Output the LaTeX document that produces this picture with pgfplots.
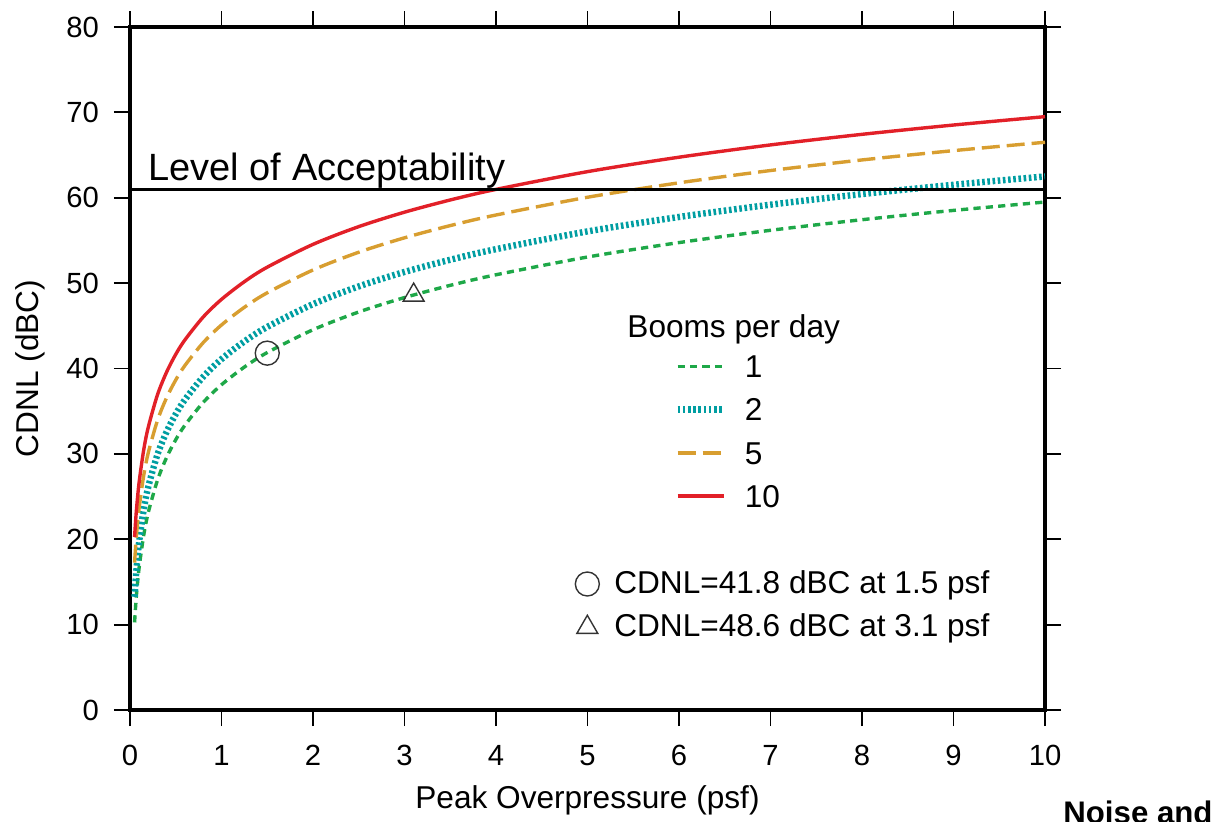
\documentclass[border=0pt]{standalone}
\usepackage{fontspec}
\setmainfont{Liberation Sans}
\usepackage{pgfplots}
\pgfplotsset{compat=1.18}
\usepackage{pgfplotstable}
\definecolor{cgreen}{RGB}{30,168,72}
\definecolor{cteal}{RGB}{0,158,162}
\definecolor{corange}{RGB}{216,158,48}
\definecolor{cred}{RGB}{226,32,40}

\pgfplotstableread{
x     b1     b2     b5     b10
0.05  10.26  13.26  17.26  20.26
0.07  13.39  16.39  20.39  23.39
0.1   16.70  19.70  23.70  26.70
0.15  20.47  23.47  27.47  30.47
0.2   23.14  26.14  30.14  33.14
0.3   26.91  29.91  33.91  36.91
0.4   29.58  32.58  36.58  39.58
0.5   31.66  34.66  38.66  41.66
0.6   33.35  36.35  40.35  43.35
0.8   36.03  39.03  43.03  46.03
1     38.10  41.10  45.10  48.10
1.25  40.17  43.17  47.17  50.17
1.5   41.87  44.87  48.87  51.87
2     44.54  47.54  51.54  54.54
2.5   46.62  49.62  53.62  56.62
3     48.31  51.31  55.31  58.31
3.5   49.74  52.74  56.74  59.74
4     50.98  53.98  57.98  60.98
5     53.06  56.06  60.06  63.06
6     54.75  57.75  61.75  64.75
7     56.19  59.19  63.19  66.19
8     57.43  60.43  64.43  67.43
9     58.52  61.52  65.52  68.52
10    59.50  62.50  66.50  69.50
}\cdnl

\newcommand{\tickfont}{\fontsize{14.6}{14.6}\selectfont}
\newcommand{\labfont}{\fontsize{15.8}{15.8}\selectfont}

\begin{document}
\begin{tikzpicture}
\begin{axis}[name=ax,
  scale only axis, width=457.5pt, height=341.5pt,
  xmin=0, xmax=10, ymin=0, ymax=80,
  xtick={0,1,...,10}, ytick={0,10,...,80},
  tick align=outside, major tick length=8pt,
  tick style={black, line width=0.9pt},
  axis line style={line width=1.8pt},
  /pgf/number format/assume math mode=true,
  ticklabel style={font=\tickfont},
  xticklabel style={yshift=-6pt},
  yticklabel style={xshift=-4pt},
  xlabel={Peak Overpressure (psf)},
  ylabel={CDNL (dBC)},
  label style={font=\labfont},
  xlabel style={at={(axis description cs:0.5,-0.1435)}, anchor=base},
  ylabel style={at={(axis description cs:-0.109,0.5)}, anchor=center},
  legend style={draw=none, fill=none, font=\labfont,
    at={(axis description cs:0.588,0.526)}, anchor=north west,
    row sep=10.3pt, column sep=9pt,
    nodes={inner sep=0pt, text height=11.3pt, text depth=0pt}},
  legend cell align=left,
  legend image code/.code={\draw[#1] (0pt,0pt) -- (23pt,0pt);},
]
\addplot[cgreen, line width=1.7pt, dash pattern=on 3.6pt off 2.6pt, smooth] table[x=x, y=b1] {\cdnl};
\addplot[cteal, line width=3.2pt, dash pattern=on 1.3pt off 1.3pt, smooth] table[x=x, y=b2] {\cdnl};
\addplot[corange, line width=1.7pt, dash pattern=on 9pt off 3.5pt, smooth] table[x=x, y=b5] {\cdnl};
\addplot[cred, line width=1.7pt, smooth] table[x=x, y=b10] {\cdnl};
\legend{1,2,5,10}
\addplot[black, line width=1.6pt, forget plot] coordinates {(0,61) (10,61)};
\node[anchor=base west, inner sep=0pt, font=\fontsize{19}{19}\selectfont] at (axis cs:0.197,62.06) {Level of Acceptability};
\node[anchor=base west, inner sep=0pt, font=\labfont] at (axis cs:5.432,43.68) {Booms per day};
\end{axis}
\begin{axis}[at={(ax.south west)}, anchor=south west,
  scale only axis, width=457.5pt, height=341.5pt,
  xmin=0, xmax=10, ymin=0, ymax=80, hide axis,
  legend style={draw=none, fill=none, font=\labfont,
    at={(axis description cs:0.4797,0.2104)}, anchor=north west,
    row sep=9pt, column sep=7.5pt,
    nodes={inner sep=0pt, text height=11.3pt, text depth=0pt}},
  legend cell align=left,
  legend image code/.code={\draw[#1] plot coordinates {(6pt,-1pt)};},
]
\addplot[only marks, mark=o, mark size=6pt, black!80, mark options={line width=0.7pt}] coordinates {(1.5,41.8)};
\addplot[only marks, mark=triangle, mark size=6pt, black!80, mark options={line width=0.7pt}] coordinates {(3.1,48.6)};
\legend{CDNL=41.8 dBC at 1.5 psf, CDNL=48.6 dBC at 3.1 psf}
\end{axis}
\node[anchor=base west, inner sep=0pt, font=\fontsize{15.6}{15.6}\selectfont\bfseries] at ([xshift=466.5pt, yshift=-56.5pt]ax.south west) {Noise and};
\pgfresetboundingbox
\useasboundingbox ([xshift=-65pt, yshift=-55.5pt]ax.south west) rectangle ([xshift=545.5pt, yshift=355pt]ax.south west);
\end{tikzpicture}
\end{document}
